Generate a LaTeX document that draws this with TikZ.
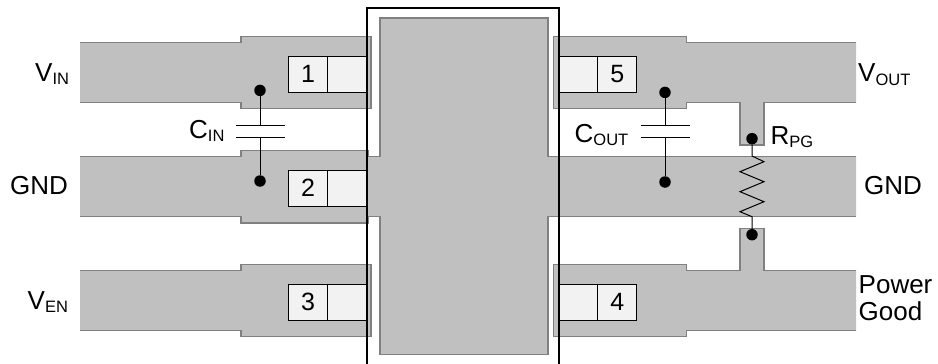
\documentclass[tikz,border=0pt]{standalone}
\usepackage{fontspec}
\setmainfont{Liberation Sans}
\definecolor{padgray}{HTML}{C0C0C0}
\definecolor{edgegray}{HTML}{808080}
\definecolor{boxgray}{HTML}{F2F2F2}
\tikzset{
  metal/.style={fill=padgray,draw=edgegray,line width=1.1pt,line join=miter},
  metaledge/.style={draw=edgegray,line width=1.1pt,line join=miter},
  pinbox/.style={fill=boxgray,draw=black,line width=1pt,minimum height=36.3pt,inner sep=0pt,font=\fontsize{25}{27}\selectfont},
  pinnum/.style={pinbox,minimum width=39.3pt},
  pinblank/.style={pinbox,minimum width=39pt},
  wire/.style={draw=black,line width=1pt},
  term/.style={circle,fill=black,draw=none,minimum size=11.5pt,inner sep=0pt},
  lab/.style={font=\fontsize{26}{27.7}\selectfont,inner sep=0pt}
}
\newcommand{\sbs}[1]{\raisebox{-3.5pt}{\fontsize{16.5}{18}\selectfont #1}}
\begin{document}
\begin{tikzpicture}[x=1pt,y=-1pt]
\useasboundingbox (0,0) rectangle (938,364);
% traces and pads
\path[metal] (80,42.7) -- (241,42.7) -- (241,36.7) -- (371,36.7) -- (371,108.7) -- (241,108.7) -- (241,102.7) -- (80,102.7);
\path[metal] (80,270.7) -- (241,270.7) -- (241,264.7) -- (371,264.7) -- (371,336.7) -- (241,336.7) -- (241,330.7) -- (80,330.7);
\path[metal] (856,42.7) -- (686.3,42.7) -- (686.3,36.7) -- (553.7,36.7) -- (553.7,108.7) -- (686.3,108.7) -- (686.3,102.7) -- (740,102.7) -- (740,145) -- (764,145) -- (764,102.7) -- (856,102.7);
\path[metal] (856,270.7) -- (764,270.7) -- (764,228.7) -- (740,228.7) -- (740,270.7) -- (686.3,270.7) -- (686.3,264.7) -- (553.7,264.7) -- (553.7,336.7) -- (686.3,336.7) -- (686.3,330.7) -- (856,330.7);
% package body with ground traces
\fill[padgray] (80,156.7) -- (241,156.7) -- (241,150.7) -- (368,150.7) -- (368,156.7) -- (380,156.7) -- (380,18) -- (548,18) -- (548,156.7) -- (856,156.7)
  -- (856,216.7) -- (548,216.7) -- (548,354.7) -- (380,354.7) -- (380,216.7) -- (368,216.7) -- (368,223) -- (241,223) -- (241,216.7) -- (80,216.7) -- cycle;
\path[metaledge] (80,156.7) -- (241,156.7) -- (241,150.7) -- (368,150.7) -- (368,156.7) -- (380,156.7) -- (380,18) -- (548,18) -- (548,156.7) -- (856,156.7);
\path[metaledge] (856,216.7) -- (548,216.7) -- (548,354.7) -- (380,354.7) -- (380,216.7) -- (368,216.7) -- (368,223) -- (241,223) -- (241,216.7) -- (80,216.7);
% pin boxes
\node[pinnum] (n1) at (308,74.2) {1};
\node[pinblank] (b1) at (347.2,74.2) {};
\node[pinnum] (n2) at (308,188.2) {2};
\node[pinblank] (b2) at (347.2,188.2) {};
\node[pinnum] (n3) at (308,302.2) {3};
\node[pinblank] (b3) at (347.2,302.2) {};
\node[pinnum] (n5) at (617.2,74.2) {5};
\node[pinblank] (b5) at (578.2,74.2) {};
\node[pinnum] (n4) at (617.2,302.2) {4};
\node[pinblank] (b4) at (578.2,302.2) {};
% outer outline
\draw[black,line width=2.2pt] (366.7,364) -- (366.7,8) -- (558.7,8) -- (558.7,364);
% CIN
\node[term] (ci1) at (260,90.4) {};
\node[term] (ci2) at (260,181) {};
\coordinate (cip1) at (260,125.7);
\coordinate (cip2) at (260,137.7);
\draw[wire] (ci1) -- (cip1);
\draw[wire] (ci2) -- (cip2);
\draw[wire] (236,125.7) -- (284.5,125.7);
\draw[wire] (236,137.7) -- (284.5,137.7);
% COUT
\node[term] (co1) at (665,92.4) {};
\node[term] (co2) at (665,182) {};
\coordinate (cop1) at (665,125.7);
\coordinate (cop2) at (665,137.7);
\draw[wire] (co1) -- (cop1);
\draw[wire] (co2) -- (cop2);
\draw[wire] (641,125.7) -- (689.7,125.7);
\draw[wire] (641,137.7) -- (689.7,137.7);
% RPG
\node[term] (r1) at (752,138.7) {};
\node[term] (r2) at (752,234.7) {};
\draw[wire,line join=miter] (r1) -- (752,156) -- (764,161.7) -- (740,171.7) -- (764,181.7) -- (740,191.7) -- (764,201.7) -- (740,211.7) -- (752,216.7) -- (r2);
% labels
\node[lab,anchor=base west] (vin) at (35,81) {V\sbs{IN}};
\node[lab,anchor=base west] (gndl) at (10,194) {GND};
\node[lab,anchor=base west] (ven) at (27.5,309) {V\sbs{EN}};
\node[lab,anchor=base west] (cin) at (189,138) {C\sbs{IN}};
\node[lab,anchor=base west] (cout) at (574.5,142) {C\sbs{OUT}};
\node[lab,anchor=base west] (rpg) at (770.5,144.3) {R\sbs{PG}};
\node[lab,anchor=base west] (vout) at (858,81.5) {V\sbs{OUT}};
\node[lab,anchor=base west] (gndr) at (864,194) {GND};
\node[lab,anchor=base west,align=left] (pg) at (858.5,320.7) {Power\\Good};
\end{tikzpicture}
\end{document}
